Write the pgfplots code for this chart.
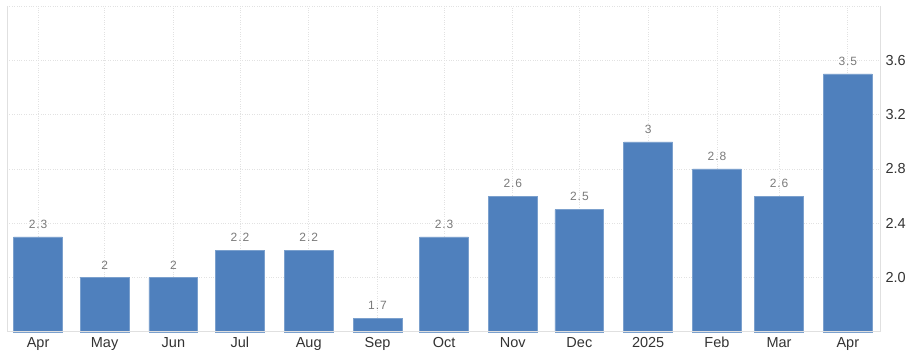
\documentclass[border=0pt]{standalone}
\usepackage{pgfplots}
\pgfplotsset{compat=1.18}
\usepackage{fontspec}
\setmainfont{Liberation Sans}
\definecolor{barblue}{HTML}{4F80BD}
\definecolor{gridc}{HTML}{E2E2E2}
\definecolor{axc}{HTML}{E0E0E0}
\definecolor{valc}{HTML}{7A7A7A}
\definecolor{tickc}{HTML}{333333}
\begin{document}
\begin{tikzpicture}
\path[use as bounding box] (-7pt,-24pt) rectangle (909pt,332pt);
\begin{axis}[
  at={(0,0)}, anchor=south west,
  scale only axis, width=873pt, height=326pt,
  xmin=-14, xmax=379.5, ymin=1.6, ymax=4.0,
  ybar, bar width=22,
  xtick={0,30,61,91,122,153,183,214,244,275,306,334,365},
  xticklabels={Apr,May,Jun,Jul,Aug,Sep,Oct,Nov,Dec,2025,Feb,Mar,Apr},
  ytick={2.0,2.4,2.8,3.2,3.6},
  yticklabels={2.0,2.4,2.8,3.2,3.6},
  extra y ticks={4.0}, extra y tick labels={},
  yticklabel pos=right,
  major tick length=0pt,
  xmajorgrids, ymajorgrids,
  major grid style={gridc, dotted, line width=0.8pt},
  axis line style={draw=none},
  tick label style={font=\fontsize{14.5}{14.5}\selectfont, text=tickc},
  xticklabel style={yshift=-1.5pt},
  yticklabel style={xshift=2pt},
  point meta=explicit symbolic,
  nodes near coords,
  nodes near coords style={font=\fontsize{12}{12}\selectfont\addfontfeature{LetterSpace=8}, text=valc, yshift=5pt},
  clip=false,
]
\addplot[fill=barblue, draw=barblue!75!white, line width=0.6pt] coordinates {
  (0,2.3) [2.3]
  (30,2.0) [2]
  (61,2.0) [2]
  (91,2.2) [2.2]
  (122,2.2) [2.2]
  (153,1.7) [1.7]
  (183,2.3) [2.3]
  (214,2.6) [2.6]
  (244,2.5) [2.5]
  (275,3.0) [3]
  (306,2.8) [2.8]
  (334,2.6) [2.6]
  (365,3.5) [3.5]
};
\draw[axc, line width=1pt] (rel axis cs:0,0) -- (rel axis cs:1,0);
\draw[axc, line width=1pt] (rel axis cs:0,0) -- (rel axis cs:0,1);
\draw[axc, line width=1pt] (rel axis cs:1,0) -- (rel axis cs:1,1);
\end{axis}
\end{tikzpicture}
\end{document}
